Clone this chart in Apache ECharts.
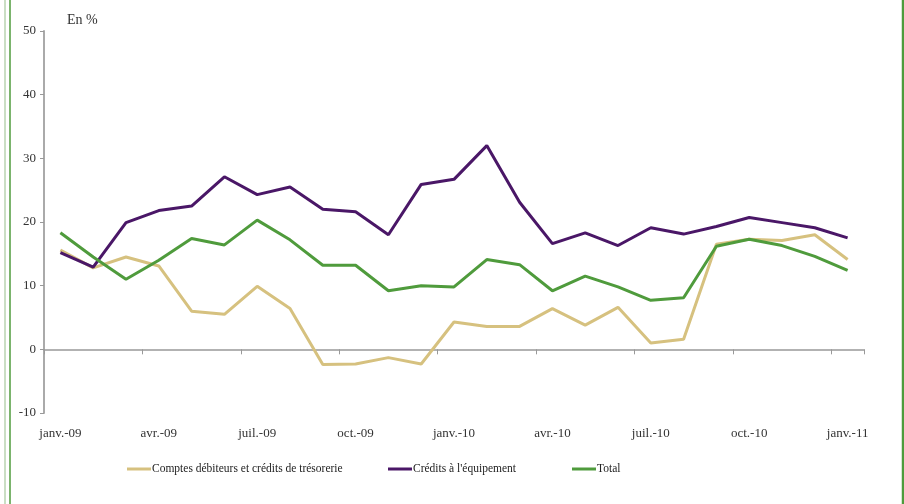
<!DOCTYPE html>
<html>
<head>
<meta charset="utf-8">
<script src="https://cdn.jsdelivr.net/npm/echarts@6/dist/echarts.min.js"></script>
<style>
html,body{margin:0;padding:0;background:#fff;}
#chart{width:904px;height:504px;}
</style>
</head>
<body>
<div id="chart"></div>
<script>
const categories = ['janv.-09','févr.-09','mars-09','avr.-09','mai-09','juin-09','juil.-09','août-09','sept.-09','oct.-09','nov.-09','déc.-09',
  'janv.-10','févr.-10','mars-10','avr.-10','mai-10','juin-10','juil.-10','août-10','sept.-10','oct.-10','nov.-10','déc.-10','janv.-11'];
const comptes = [15.6,12.8,14.5,13.1,6.0,5.5,9.9,6.4,-2.4,-2.3,-1.3,-2.3,4.3,3.6,3.6,6.4,3.8,6.6,1.0,1.6,16.5,17.3,17.1,18.0,14.1];
const equipement = [15.2,12.9,19.9,21.8,22.5,27.1,24.3,25.5,22.0,21.6,18.0,25.9,26.7,32.0,23.1,16.6,18.3,16.3,19.1,18.1,19.3,20.7,19.9,19.1,17.5];
const total = [18.3,14.5,11.0,14.0,17.4,16.4,20.3,17.2,13.2,13.2,9.2,10.0,9.8,14.1,13.3,9.2,11.5,9.8,7.7,8.1,16.2,17.3,16.3,14.6,12.4];
const seriesNames = ['Comptes débiteurs et crédits de trésorerie', "Crédits à l'équipement", 'Total'];
const colors = ['#d6c17f', '#4a1767', '#4f9b3c'];
const yTicks = {min: -10, max: 50, interval: 10};

const font = 'Liberation Serif, DejaVu Serif, serif';
const chart = echarts.init(document.getElementById('chart'));
const mk = (name, data, color) => ({
  name, type: 'line', data, xAxisIndex: 0, symbol: 'none', smooth: false,
  lineStyle: {color, width: 3}, itemStyle: {color}, emphasis: {disabled: true}
});
const legendAt = (left, name) => ({
  left, top: 458, itemWidth: 24, itemHeight: 3, icon: 'rect', selectedMode: false,
  textStyle: {fontFamily: font, fontSize: 11.5, color: '#222', padding: [0,0,0,-4]},
  data: [name]
});
chart.setOption({
  animation: false,
  backgroundColor: '#fff',
  title: {text: 'En %', left: 62, top: 8, textStyle: {fontFamily: font, fontSize: 14, fontWeight: 'normal', color: '#333'}},
  grid: {left: 44, right: 40, top: 31, bottom: 91, containLabel: false},
  legend: [legendAt(122, seriesNames[0]), legendAt(383, seriesNames[1]), legendAt(567, seriesNames[2])],
  xAxis: [
    {type: 'category', data: categories, boundaryGap: true,
     axisLine: {onZero: true, lineStyle: {color: '#999', width: 1.5}},
     axisTick: {show: true, interval: 2, length: 5, lineStyle: {color: '#999'}},
     axisLabel: {show: false}, splitLine: {show: false}},
    {type: 'category', data: categories, boundaryGap: true, position: 'bottom',
     axisLine: {show: false, onZero: false}, axisTick: {show: false},
     axisLabel: {show: true, interval: 2, margin: 14, fontFamily: font, fontSize: 13, color: '#333'},
     splitLine: {show: false}}
  ],
  yAxis: {
    type: 'value', min: yTicks.min, max: yTicks.max, interval: yTicks.interval,
    axisLine: {show: true, lineStyle: {color: '#aaa', width: 2}},
    axisTick: {show: true, length: 4, lineStyle: {color: '#999'}},
    axisLabel: {fontFamily: font, fontSize: 13, color: '#333', margin: 8},
    splitLine: {show: false}
  },
  graphic: [
    {type: 'line', shape: {x1: 5, y1: 0, x2: 5, y2: 504}, style: {stroke: '#b9d3b0', lineWidth: 1.5}, silent: true},
    {type: 'line', shape: {x1: 10, y1: 0, x2: 10, y2: 504}, style: {stroke: '#4f9b3c', lineWidth: 1.5}, silent: true},
    {type: 'line', shape: {x1: 903, y1: 0, x2: 903, y2: 504}, style: {stroke: '#4f9b3c', lineWidth: 2.5}, silent: true}
  ],
  series: [
    mk(seriesNames[0], comptes, colors[0]),
    mk(seriesNames[1], equipement, colors[1]),
    mk(seriesNames[2], total, colors[2])
  ]
});
</script>
</body>
</html>
